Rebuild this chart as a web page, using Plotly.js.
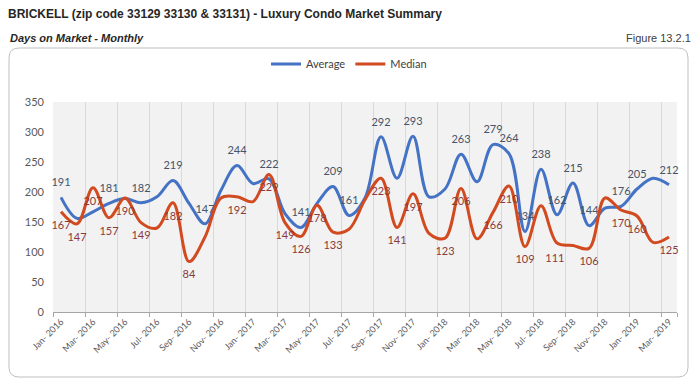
<!DOCTYPE html>
<html>
<head>
<meta charset="utf-8">
<script src="https://cdn.plot.ly/plotly-3.0.1.min.js"></script>
<style>
  html, body { margin: 0; padding: 0; background: #ffffff; }
  #chart { width: 700px; height: 389px; }
</style>
</head>
<body>
<div id="chart"></div>
<script>
// ---- Data ----
const months = [
  "Jan- 2016","Feb- 2016","Mar- 2016","Apr- 2016","May- 2016","Jun- 2016","Jul- 2016","Aug- 2016",
  "Sep- 2016","Oct- 2016","Nov- 2016","Dec- 2016","Jan- 2017","Feb- 2017","Mar- 2017","Apr- 2017",
  "May- 2017","Jun- 2017","Jul- 2017","Aug- 2017","Sep- 2017","Oct- 2017","Nov- 2017","Dec- 2017",
  "Jan- 2018","Feb- 2018","Mar- 2018","Apr- 2018","May- 2018","Jun- 2018","Jul- 2018","Aug- 2018",
  "Sep- 2018","Oct- 2018","Nov- 2018","Dec- 2018","Jan- 2019","Feb- 2019","Mar- 2019"
];
const tickLabels = [
  "Jan- 2016","Mar- 2016","May- 2016","Jul- 2016","Sep- 2016","Nov- 2016","Jan- 2017","Mar- 2017",
  "May- 2017","Jul- 2017","Sep- 2017","Nov- 2017","Jan- 2018","Mar- 2018","May- 2018","Jul- 2018",
  "Sep- 2018","Nov- 2018","Jan- 2019","Mar- 2019"
];
const average = [191,156,167,181,189,182,192,219,181,147,203,244,214,222,164,141,181,209,161,190,
                 292,223,293,192,205,263,217,279,264,134,238,162,215,144,173,176,205,223,212];
const median  = [167,147,207,157,190,149,140,182,84,125,190,192,184,229,149,126,178,133,138,187,
                 223,141,197,131,123,206,122,166,210,109,177,115,111,106,190,170,160,116,125];
// months whose value is printed on the chart
const averageLabelled = [0,3,5,7,9,11,13,15,17,18,20,22,25,27,28,29,30,31,32,33,35,36,38];
const medianLabelled  = [0,1,2,3,4,5,7,8,11,13,14,15,16,17,20,21,22,24,25,27,28,29,32,33,35,36,38];

// ---- Build ----
const idx = months.map((m, i) => i);
const tickIdx = tickLabels.map(t => months.indexOf(t));
const avgText = average.map((v, i) => averageLabelled.includes(i) ? String(v) : "");
const medText = median.map((v, i) => medianLabelled.includes(i) ? String(v) : "");
const medPos = median.map((v, i) => (i === 32 ? "bottom left" : "bottom center"));
const boundaries = [];
for (let i = 0; i <= months.length; i += 2) boundaries.push(i - 0.5);
if (boundaries[boundaries.length - 1] !== months.length - 0.5) boundaries.push(months.length - 0.5);

const FONT = "Lato, 'Liberation Sans', Arial, sans-serif";
const TFONT = "'Liberation Sans Narrow', 'Liberation Sans', Arial, sans-serif";

// plot area in pixels
const L = 53, R = 677, T = 102, B = 312;
const pxX = x => (x - L) / (R - L);
const pxY = y => (B - y) / (B - T);

function roundRect(x0, y0, x1, y1, r) {
  const X = pxX, Y = pxY;
  return `M ${X(x0 + r)},${Y(y0)} L ${X(x1 - r)},${Y(y0)} Q ${X(x1)},${Y(y0)} ${X(x1)},${Y(y0 + r)} ` +
         `L ${X(x1)},${Y(y1 - r)} Q ${X(x1)},${Y(y1)} ${X(x1 - r)},${Y(y1)} ` +
         `L ${X(x0 + r)},${Y(y1)} Q ${X(x0)},${Y(y1)} ${X(x0)},${Y(y1 - r)} ` +
         `L ${X(x0)},${Y(y0 + r)} Q ${X(x0)},${Y(y0)} ${X(x0 + r)},${Y(y0)} Z`;
}

const hiddenMarker = { size: 12, color: "rgba(0,0,0,0)", line: { width: 0, color: "rgba(0,0,0,0)" } };

const traces = [
  {
    x: idx, y: average, name: "Average", type: "scatter", mode: "lines+markers+text",
    text: avgText, textposition: "top center",
    textfont: { family: FONT, size: 11, color: "#44546a" },
    marker: hiddenMarker,
    line: { color: "#4472c4", width: 3, shape: "spline", smoothing: 1 },
    cliponaxis: false, hoverinfo: "x+y"
  },
  {
    x: idx, y: median, name: "Median", type: "scatter", mode: "lines+markers+text",
    text: medText, textposition: medPos,
    textfont: { family: FONT, size: 11, color: "#8b3a3a" },
    marker: hiddenMarker,
    line: { color: "#d24a1f", width: 3, shape: "spline", smoothing: 1 },
    cliponaxis: false, hoverinfo: "x+y"
  }
];

const layout = {
  width: 700, height: 389,
  margin: { l: L, r: 700 - R, t: T, b: 389 - B, pad: 0 },
  paper_bgcolor: "#ffffff",
  plot_bgcolor: "#f2f2f2",
  font: { family: FONT, color: "#595959" },
  title: {
    text: "BRICKELL (zip code 33129 33130 & 33131) - Luxury Condo Market Summary",
    font: { family: TFONT, size: 12, color: "#262626", weight: "bold" },
    x: 8 / 700, xanchor: "left", xref: "container",
    y: 1 - 14 / 389, yanchor: "middle", yref: "container"
  },
  showlegend: true,
  legend: {
    orientation: "h", x: pxX(349), xanchor: "center", y: pxY(64), yanchor: "middle",
    font: { family: FONT, size: 11, color: "#404040" }, bgcolor: "rgba(0,0,0,0)",
    itemwidth: 30, tracegroupgap: 0
  },
  xaxis: {
    type: "linear", range: [-0.5, months.length - 0.5],
    tickmode: "array", tickvals: tickIdx, ticktext: tickLabels,
    tickangle: -45, ticks: "", showgrid: false, zeroline: false,
    tickfont: { family: FONT, size: 9, color: "#595959" },
    showline: true, linecolor: "#a6a6a6", linewidth: 1,
    minor: { tickmode: "array", tickvals: boundaries, ticks: "outside", ticklen: 4,
             tickcolor: "#a6a6a6", showgrid: true, gridcolor: "#d9d9d9", gridwidth: 1 },
    fixedrange: true
  },
  yaxis: {
    range: [0, 350], tickmode: "linear", tick0: 0, dtick: 50,
    showgrid: false, zeroline: false, showline: false, ticks: "",
    ticklabelstandoff: 8,
    tickfont: { family: FONT, size: 11, color: "#595959" },
    fixedrange: true
  },
  shapes: [
    { type: "path", xref: "paper", yref: "paper", path: roundRect(9, 48, 688, 377, 10),
      line: { color: "#bfbfbf", width: 1 }, fillcolor: "rgba(0,0,0,0)", layer: "below" }
  ],
  annotations: [
    { text: "<i>Days on Market - Monthly</i>", xref: "paper", yref: "paper",
      x: pxX(8), y: pxY(38), xanchor: "left", yanchor: "middle", showarrow: false,
      font: { family: TFONT, size: 11, color: "#262626", weight: "bold" } },
    { text: "Figure 13.2.1", xref: "paper", yref: "paper",
      x: pxX(693), y: pxY(38), xanchor: "right", yanchor: "middle", showarrow: false,
      font: { family: TFONT, size: 11, color: "#404040" } }
  ]
};

Plotly.newPlot("chart", traces, layout, { displayModeBar: false, staticPlot: true });
</script>
</body>
</html>
